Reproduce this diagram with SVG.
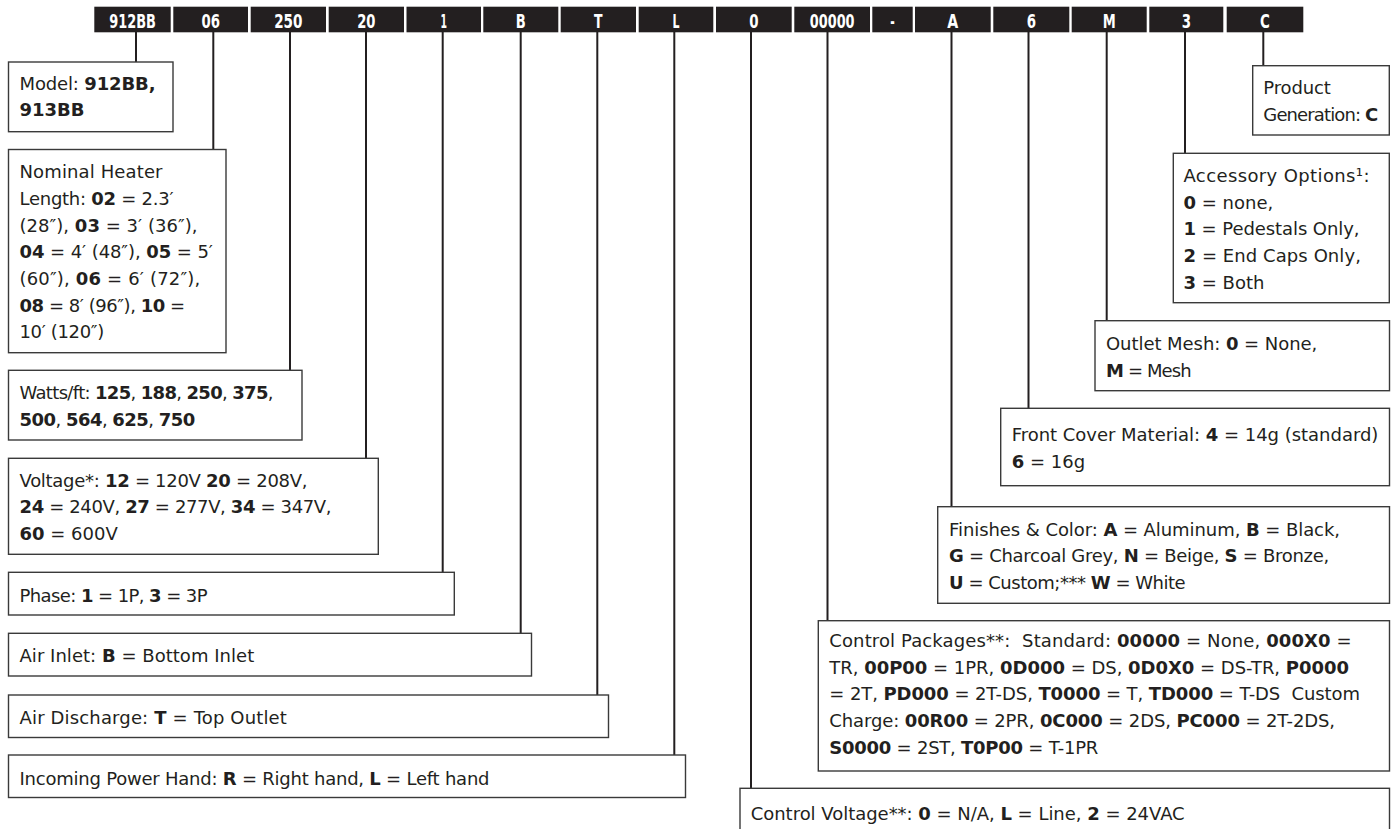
<svg xmlns="http://www.w3.org/2000/svg" width="1392" height="829" viewBox="0 0 1392 829">
<style>
.hdr rect{fill:#231f20}
.hdr text{fill:#fff;font-family:"Liberation Sans Narrow","DejaVu Sans Condensed","Liberation Sans",sans-serif;font-weight:700;font-size:19px;text-anchor:middle}
.box rect{fill:#fff;stroke:#3a3a3a;stroke-width:1.4}
.box text{font-family:"DejaVu Sans","Liberation Sans",sans-serif;font-size:18px;fill:#231f20;white-space:pre}
.b{font-weight:700}
#connectors line{stroke:#231f20;stroke-width:2}
</style>
<rect x="0" y="0" width="1392" height="829" fill="#fff"/>
<g id="connectors">
<line x1="136" y1="32" x2="136" y2="62"/>
<line x1="213.3" y1="32" x2="213.3" y2="149.5"/>
<line x1="290" y1="32" x2="290" y2="370.3"/>
<line x1="366" y1="32" x2="366" y2="458.3"/>
<line x1="442.7" y1="32" x2="442.7" y2="572.3"/>
<line x1="520.7" y1="32" x2="520.7" y2="633.3"/>
<line x1="597.3" y1="32" x2="597.3" y2="695"/>
<line x1="674.3" y1="32" x2="674.3" y2="755"/>
<line x1="751" y1="32" x2="751" y2="788.3"/>
<line x1="827.5" y1="32" x2="827.5" y2="620.7"/>
<line x1="951.5" y1="32" x2="951.5" y2="506.7"/>
<line x1="1028.5" y1="32" x2="1028.5" y2="408.3"/>
<line x1="1106.7" y1="32" x2="1106.7" y2="320.7"/>
<line x1="1185" y1="32" x2="1185" y2="153.3"/>
<line x1="1263.3" y1="32" x2="1263.3" y2="65.7"/>
</g>
<g class="hdr">
<g id="seg-model"><rect x="94.3" y="6.7" width="76.4" height="25.6"/><text x="132.5" y="27.5" textLength="46.7" lengthAdjust="spacingAndGlyphs">912BB</text></g>
<g id="seg-length"><rect x="173.3" y="6.7" width="74.7" height="25.6"/><text x="210.7" y="27.5" textLength="18.5" lengthAdjust="spacingAndGlyphs">06</text></g>
<g id="seg-watts"><rect x="250.7" y="6.7" width="75.3" height="25.6"/><text x="288.3" y="27.5" textLength="28.3" lengthAdjust="spacingAndGlyphs">250</text></g>
<g id="seg-voltage"><rect x="328.7" y="6.7" width="75.3" height="25.6"/><text x="366.3" y="27.5" textLength="18.3" lengthAdjust="spacingAndGlyphs">20</text></g>
<g id="seg-phase"><rect x="406.5" y="6.7" width="74.5" height="25.6"/><text x="443.8" y="27.5" textLength="6.5" lengthAdjust="spacingAndGlyphs">1</text></g>
<g id="seg-inlet"><rect x="483.3" y="6.7" width="75" height="25.6"/><text x="520.8" y="27.5" textLength="10" lengthAdjust="spacingAndGlyphs">B</text></g>
<g id="seg-discharge"><rect x="560.7" y="6.7" width="75.3" height="25.6"/><text x="598.3" y="27.5" textLength="8.5" lengthAdjust="spacingAndGlyphs">T</text></g>
<g id="seg-power"><rect x="638.7" y="6.7" width="74.6" height="25.6"/><text x="676" y="27.5" textLength="7" lengthAdjust="spacingAndGlyphs">L</text></g>
<g id="seg-ctrlvolt"><rect x="716" y="6.7" width="75.7" height="25.6"/><text x="753.8" y="27.5" textLength="9.3" lengthAdjust="spacingAndGlyphs">0</text></g>
<g id="seg-ctrlpkg"><rect x="794.3" y="6.7" width="75.7" height="25.6"/><text x="832.2" y="27.5" textLength="44.7" lengthAdjust="spacingAndGlyphs">00000</text></g>
<g id="seg-dash"><rect x="872.3" y="6.7" width="40.4" height="25.6"/><text x="892.5" y="27.5" textLength="4.5" lengthAdjust="spacingAndGlyphs">-</text></g>
<g id="seg-finish"><rect x="915" y="6.7" width="75.7" height="25.6"/><text x="952.8" y="27.5" textLength="11" lengthAdjust="spacingAndGlyphs">A</text></g>
<g id="seg-cover"><rect x="993.3" y="6.7" width="76" height="25.6"/><text x="1031.3" y="27.5" textLength="9.3" lengthAdjust="spacingAndGlyphs">6</text></g>
<g id="seg-mesh"><rect x="1071.7" y="6.7" width="75" height="25.6"/><text x="1109.2" y="27.5" textLength="13" lengthAdjust="spacingAndGlyphs">M</text></g>
<g id="seg-accessory"><rect x="1149.3" y="6.7" width="74" height="25.6"/><text x="1186.3" y="27.5" textLength="9.3" lengthAdjust="spacingAndGlyphs">3</text></g>
<g id="seg-generation"><rect x="1226.7" y="6.7" width="76.6" height="25.6"/><text x="1265" y="27.5" textLength="9.8" lengthAdjust="spacingAndGlyphs">C</text></g>
</g>
<g class="box">
<g id="box-model"><rect x="8.5" y="62" width="164.5" height="69.7"/>
<text x="19.5" y="89.5" textLength="136">Model: <tspan class="b">912BB,</tspan></text>
<text x="19.5" y="116.2"><tspan class="b">913BB</tspan></text></g>
<g id="box-length"><rect x="8.5" y="149.5" width="217.5" height="203.2"/>
<text x="19.5" y="178.3" textLength="143">Nominal Heater</text>
<text x="19.5" y="205" textLength="154">Length: <tspan class="b">02</tspan> = 2.3′</text>
<text x="19.5" y="231.7" textLength="178">(28″), <tspan class="b">03</tspan> = 3′ (36″),</text>
<text x="19.5" y="258.3" textLength="193.4"><tspan class="b">04</tspan> = 4′ (48″), <tspan class="b">05</tspan> = 5′</text>
<text x="19.5" y="285" textLength="180.7">(60″), <tspan class="b">06</tspan> = 6′ (72″),</text>
<text x="19.5" y="311.7" textLength="165.7"><tspan class="b">08</tspan> = 8′ (96″), <tspan class="b">10</tspan> =</text>
<text x="19.5" y="338.3" textLength="84.7">10′ (120″)</text></g>
<g id="box-watts"><rect x="8.5" y="370.3" width="293.5" height="69.7"/>
<text x="19.5" y="399.3" textLength="254">Watts/ft: <tspan class="b">125</tspan>, <tspan class="b">188</tspan>, <tspan class="b">250</tspan>, <tspan class="b">375</tspan>,</text>
<text x="19.5" y="426" textLength="175.7"><tspan class="b">500</tspan>, <tspan class="b">564</tspan>, <tspan class="b">625</tspan>, <tspan class="b">750</tspan></text></g>
<g id="box-voltage"><rect x="8.5" y="458.3" width="369.8" height="96"/>
<text x="19.5" y="486.7" textLength="288">Voltage*: <tspan class="b">12</tspan> = 120V <tspan class="b">20</tspan> = 208V,</text>
<text x="19.5" y="513.4" textLength="312"><tspan class="b">24</tspan> = 240V, <tspan class="b">27</tspan> = 277V, <tspan class="b">34</tspan> = 347V,</text>
<text x="19.5" y="540.1"><tspan class="b">60</tspan> = 600V</text></g>
<g id="box-phase"><rect x="8.5" y="572.3" width="445.8" height="42.7"/>
<text x="19.5" y="601.5" textLength="188">Phase: <tspan class="b">1</tspan> = 1P, <tspan class="b">3</tspan> = 3P</text></g>
<g id="box-inlet"><rect x="8.5" y="633.3" width="523" height="42.7"/>
<text x="19.5" y="662" textLength="234.7">Air Inlet: <tspan class="b">B</tspan> = Bottom Inlet</text></g>
<g id="box-discharge"><rect x="8.5" y="695" width="600" height="42.5"/>
<text x="19.5" y="724" textLength="267.4">Air Discharge: <tspan class="b">T</tspan> = Top Outlet</text></g>
<g id="box-power"><rect x="8.5" y="755" width="677" height="42.5"/>
<text x="19.5" y="784.5" textLength="470">Incoming Power Hand: <tspan class="b">R</tspan> = Right hand, <tspan class="b">L</tspan> = Left hand</text></g>
<g id="box-generation"><rect x="1252.7" y="65.7" width="136.6" height="69.3"/>
<text x="1263.3" y="93.5" textLength="67.4">Product</text>
<text x="1263.3" y="120.5" textLength="115">Generation: <tspan class="b">C</tspan></text></g>
<g id="box-accessory"><rect x="1173.3" y="153.3" width="216" height="149.4"/>
<text x="1183.5" y="182" textLength="186">Accessory Options¹:</text>
<text x="1183.5" y="208.7"><tspan class="b">0</tspan> = none,</text>
<text x="1183.5" y="235.3" textLength="176"><tspan class="b">1</tspan> = Pedestals Only,</text>
<text x="1183.5" y="262" textLength="177.4"><tspan class="b">2</tspan> = End Caps Only,</text>
<text x="1183.5" y="288.7"><tspan class="b">3</tspan> = Both</text></g>
<g id="box-mesh"><rect x="1095" y="320.7" width="294.5" height="70"/>
<text x="1106" y="350" textLength="211.3">Outlet Mesh: <tspan class="b">0</tspan> = None,</text>
<text x="1106" y="376.7" textLength="85.7"><tspan class="b">M</tspan> = Mesh</text></g>
<g id="box-cover"><rect x="1000.7" y="408.3" width="388.8" height="77.4"/>
<text x="1011.7" y="440.5" textLength="366.7">Front Cover Material: <tspan class="b">4</tspan> = 14g (standard)</text>
<text x="1011.7" y="467.5"><tspan class="b">6</tspan> = 16g</text></g>
<g id="box-finish"><rect x="937.7" y="506.7" width="451.8" height="96.6"/>
<text x="949" y="535.7" textLength="391">Finishes &amp; Color: <tspan class="b">A</tspan> = Aluminum, <tspan class="b">B</tspan> = Black,</text>
<text x="949" y="562.4" textLength="380.3"><tspan class="b">G</tspan> = Charcoal Grey, <tspan class="b">N</tspan> = Beige, <tspan class="b">S</tspan> = Bronze,</text>
<text x="949" y="589" textLength="236.7"><tspan class="b">U</tspan> = Custom;*** <tspan class="b">W</tspan> = White</text></g>
<g id="box-ctrlpkg"><rect x="818.3" y="620.7" width="571.2" height="150.3"/>
<text x="829.3" y="647" textLength="522.4">Control Packages**:  Standard: <tspan class="b">00000</tspan> = None, <tspan class="b">000X0</tspan> =</text>
<text x="829.3" y="673.7" textLength="519.7">TR, <tspan class="b">00P00</tspan> = 1PR, <tspan class="b">0D000</tspan> = DS, <tspan class="b">0D0X0</tspan> = DS-TR, <tspan class="b">P0000</tspan></text>
<text x="829.3" y="700.3" textLength="530.7">= 2T, <tspan class="b">PD000</tspan> = 2T-DS, <tspan class="b">T0000</tspan> = T, <tspan class="b">TD000</tspan> = T-DS  Custom</text>
<text x="829.3" y="727" textLength="505.7">Charge: <tspan class="b">00R00</tspan> = 2PR, <tspan class="b">0C000</tspan> = 2DS, <tspan class="b">PC000</tspan> = 2T-2DS,</text>
<text x="829.3" y="753.7" textLength="269"><tspan class="b">S0000</tspan> = 2ST, <tspan class="b">T0P00</tspan> = T-1PR</text></g>
<g id="box-ctrlvolt"><rect x="740" y="788.3" width="649.5" height="60"/>
<text x="750.7" y="820" textLength="434">Control Voltage**: <tspan class="b">0</tspan> = N/A, <tspan class="b">L</tspan> = Line, <tspan class="b">2</tspan> = 24VAC</text></g>
</g>
</svg>
